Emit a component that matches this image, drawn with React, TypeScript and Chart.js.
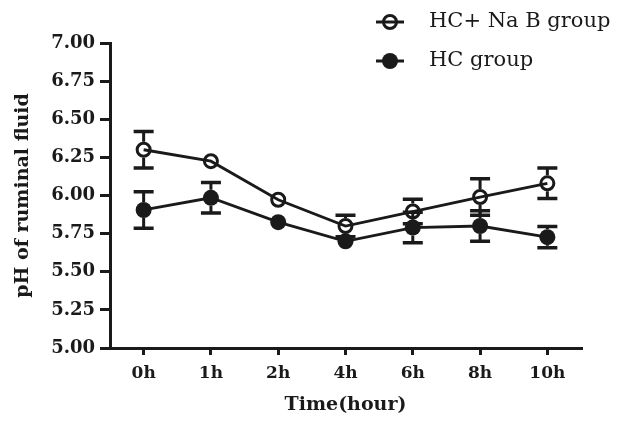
import React, { useEffect, useRef } from 'react';
import { Chart, registerables } from 'chart.js';

Chart.register(...registerables);

// ---- data ----
const categories = ['0h', '1h', '2h', '4h', '6h', '8h', '10h'];
const seriesLabels = ['HC+ Na B group', 'HC group'];
const nabMean = [6.30, 6.225, 5.972, 5.80, 5.895, 5.99, 6.08];
const nabErr = [0.12, 0.02, 0.02, 0.07, 0.08, 0.12, 0.10];
const hcMean = [5.905, 5.985, 5.825, 5.70, 5.79, 5.80, 5.727];
const hcErr = [0.12, 0.10, 0.02, 0.02, 0.10, 0.10, 0.07];
const yMin = 5.0;
const yMax = 7.0;
const yStep = 0.25;
const xTitle = 'Time(hour)';
const yTitle = 'pH of ruminal fluid';

const INK = '#1a1a1a';
const FONT = '"DejaVu Serif", "Liberation Serif", serif';

const errorBarPlugin = {
  id: 'errorBars',
  beforeDatasetsDraw(chart: any) {
    const ctx = chart.ctx;
    const ys = chart.scales.y;
    chart.data.datasets.forEach((ds: any, i: number) => {
      const meta = chart.getDatasetMeta(i);
      const r = (ds.pointRadius || 0) + (ds.pointBorderWidth || 0) / 2;
      meta.data.forEach((pt: any, j: number) => {
        const v = ds.data[j];
        const e = ds.errors[j];
        const x = pt.x;
        const yc = ys.getPixelForValue(v);
        const yt = ys.getPixelForValue(v + e);
        const yb = ys.getPixelForValue(v - e);
        ctx.save();
        ctx.strokeStyle = INK;
        ctx.lineCap = 'butt';
        if (yc - yt > r) {
          ctx.lineWidth = 3;
          ctx.beginPath();
          ctx.moveTo(x, yt);
          ctx.lineTo(x, yc - r);
          ctx.moveTo(x, yb);
          ctx.lineTo(x, yc + r);
          ctx.stroke();
          ctx.lineWidth = 3.5;
          ctx.beginPath();
          ctx.moveTo(x - 10, yt);
          ctx.lineTo(x + 10, yt);
          ctx.moveTo(x - 10, yb);
          ctx.lineTo(x + 10, yb);
          ctx.stroke();
        }
        ctx.restore();
      });
    });
  },
};

const legendPlugin = {
  id: 'customLegend',
  afterDraw(chart: any) {
    const ctx = chart.ctx;
    const rows = [22, 61];
    chart.data.datasets.forEach((ds: any, i: number) => {
      const y = rows[i];
      ctx.save();
      ctx.strokeStyle = INK;
      ctx.lineWidth = 3;
      ctx.beginPath();
      ctx.moveTo(376, y);
      ctx.lineTo(404, y);
      ctx.stroke();
      ctx.beginPath();
      ctx.arc(390, y, ds.pointRadius, 0, Math.PI * 2);
      if (ds.filled) {
        ctx.fillStyle = INK;
        ctx.fill();
      } else {
        ctx.lineWidth = ds.pointBorderWidth;
        ctx.stroke();
      }
      ctx.fillStyle = INK;
      ctx.font = `21px ${FONT}`;
      ctx.textAlign = 'left';
      ctx.textBaseline = 'middle';
      ctx.fillText(ds.label, 429, y);
      ctx.restore();
    });
  },
};

export default function App() {
  const ref = useRef<HTMLCanvasElement | null>(null);
  useEffect(() => {
    if (!ref.current) return;
    const chart = new Chart(ref.current, {
      type: 'line',
      data: {
        labels: categories,
        datasets: [
          {
            label: seriesLabels[0],
            data: nabMean,
            errors: nabErr,
            filled: false,
            borderColor: INK,
            borderWidth: 2.8,
            pointRadius: 6.5,
            pointBorderWidth: 3,
            pointBorderColor: INK,
            pointBackgroundColor: 'rgba(0,0,0,0)',
            tension: 0,
          } as any,
          {
            label: seriesLabels[1],
            data: hcMean,
            errors: hcErr,
            filled: true,
            borderColor: INK,
            borderWidth: 2.8,
            pointRadius: 8,
            pointBorderWidth: 0,
            pointBorderColor: INK,
            pointBackgroundColor: INK,
            tension: 0,
          } as any,
        ],
      },
      options: {
        responsive: false,
        animation: false,
        layout: { padding: { top: 43, right: 36, bottom: 0, left: 0 } },
        plugins: { legend: { display: false }, tooltip: { enabled: false } },
        scales: {
          x: {
            type: 'category',
            offset: true,
            afterFit: (s: any) => { s.height = 73; },
            grid: {
              display: true,
              drawOnChartArea: false,
              drawTicks: true,
              tickLength: 7,
              lineWidth: 3,
              color: INK,
            },
            border: { display: true, color: INK, width: 3 },
            ticks: {
              color: INK,
              padding: 8,
              font: { family: FONT, size: 17, weight: 'bold' },
            },
            title: {
              display: true,
              text: xTitle,
              color: INK,
              font: { family: FONT, size: 19, weight: 'bold' },
              padding: { top: 0, bottom: 5 },
            },
          },
          y: {
            min: yMin,
            max: yMax,
            afterFit: (s: any) => { s.width = 110; },
            grid: {
              display: true,
              drawOnChartArea: false,
              drawTicks: true,
              tickLength: 10,
              lineWidth: 3,
              color: INK,
            },
            border: { display: true, color: INK, width: 3 },
            ticks: {
              stepSize: yStep,
              color: INK,
              padding: 5,
              font: { family: FONT, size: 18, weight: 'bold' },
              callback: (v: any) => Number(v).toFixed(2),
            },
            title: {
              display: true,
              text: yTitle,
              color: INK,
              font: { family: FONT, size: 19, weight: 'bold' },
              padding: { top: 12, bottom: 0 },
            },
          },
        },
      } as any,
      plugins: [errorBarPlugin, legendPlugin],
    });
    return () => chart.destroy();
  }, []);
  return (
    <div style={{ position: 'absolute', left: 0, top: 0, width: 617, height: 421, background: '#fff' }}>
      <canvas ref={ref} width={617} height={421} />
    </div>
  );
}
